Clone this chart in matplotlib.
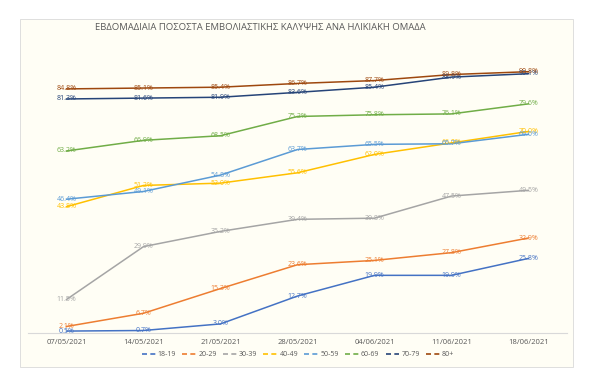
import matplotlib.pyplot as plt
from matplotlib.patches import Rectangle
from matplotlib.lines import Line2D

plt.rcParams['font.family'] = ['Open Sans', 'DejaVu Sans']

dates = ['07/05/2021', '14/05/2021', '21/05/2021', '28/05/2021',
         '04/06/2021', '11/06/2021', '18/06/2021']

groups = ['18-19', '20-29', '30-39', '40-49', '50-59', '60-69', '70-79', '80+']

v_18_19 = [0.5, 0.7, 3.0, 12.7, 19.9, 19.9, 25.8]
v_20_29 = [2.1, 6.7, 15.3, 23.6, 25.1, 27.8, 32.9]
v_30_39 = [11.5, 29.9, 35.2, 39.4, 39.8, 47.5, 49.5]
v_40_49 = [43.8, 51.2, 52.0, 55.6, 62.0, 66.0, 70.0]
v_50_59 = [46.4, 49.1, 54.8, 63.7, 65.5, 65.7, 69.0]
v_60_69 = [63.2, 66.9, 68.5, 75.2, 75.8, 76.1, 79.6]
v_70_79 = [81.3, 81.6, 81.9, 83.6, 85.4, 88.9, 90.1]
v_80 = [84.8, 85.1, 85.4, 86.7, 87.7, 89.8, 90.8]

series = [v_18_19, v_20_29, v_30_39, v_40_49, v_50_59, v_60_69, v_70_79, v_80]
colors = ['#4472C4', '#ED7D31', '#A5A5A5', '#FFC000',
          '#5B9BD5', '#70AD47', '#264478', '#9E480E']

BG = '#FFFEF5'

fig = plt.figure(figsize=(5.95, 3.77), dpi=100)
fig.patch.set_facecolor('white')
frame = Rectangle((20/595, 1 - 367/377), 553/595, 348/377,
                  transform=fig.transFigure, facecolor=BG,
                  edgecolor='#D9D9D9', linewidth=0.6, zorder=-10)
fig.patches.append(frame)

ax = fig.add_axes([28/595, 0.118, 539/595, 0.762])
ax.patch.set_alpha(0)

x = range(len(dates))
for vals, col, name in zip(series, colors, groups):
    ax.plot(x, vals, color=col, linewidth=1.1, label=name, zorder=2)
    for xi, v in zip(x, vals):
        ax.text(xi, v, f'{v:.1f}%', color=col, fontsize=5, ha='center',
                va='center', zorder=3)

ax.set_xlim(-0.5, len(dates) - 0.5)
ax.set_ylim(0, 100)
ax.set_xticks(list(x))
ax.set_xticklabels(dates, fontsize=5.5, color='#595959')
ax.tick_params(axis='x', length=0, pad=5)
ax.set_yticks([])
for s in ['top', 'right', 'left']:
    ax.spines[s].set_visible(False)
ax.spines['bottom'].set_color('#D9D9D9')
ax.spines['bottom'].set_linewidth(0.8)

fig.text(260/595, 1 - 28/377,
         'ΕΒΔΟΜΑΔΙΑΙΑ ΠΟΣΟΣΤΑ ΕΜΒΟΛΙΑΣΤΙΚΗΣ ΚΑΛΥΨΗΣ ΑΝΑ ΗΛΙΚΙΑΚΗ ΟΜΑΔΑ',
         ha='center', va='center', fontsize=6.8, color='#595959')

handles = [Line2D([], [], color=c, linewidth=1.2, linestyle=(0, (3, 2)))
           for c in colors]
fig.legend(handles, groups, loc='center', bbox_to_anchor=(298/595, 1 - 355/377),
           ncol=8, frameon=False, fontsize=5, handlelength=2.0,
           handletextpad=0.3, columnspacing=0.9, labelcolor='#595959')

plt.savefig('out.png', dpi=100, facecolor='white')
